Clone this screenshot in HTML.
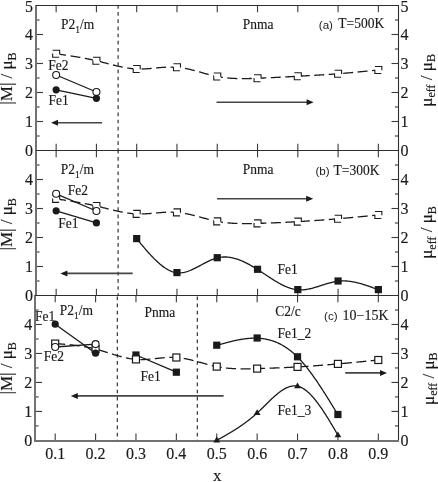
<!DOCTYPE html>
<html><head><meta charset="utf-8"><style>
html,body{margin:0;padding:0;background:#fff;}
body{width:438px;height:482px;overflow:hidden;font-family:"Liberation Serif",serif;}
svg{display:block;filter:blur(0.3px);}
text{stroke:#1a1a1a;stroke-width:0.15px;}
</style></head><body>
<svg width="438" height="482" viewBox="0 0 438 482">
<rect width="438" height="482" fill="#fff"/>
<line x1="56.14" y1="5.5" x2="56.14" y2="12.3" stroke="#3a3a3a" stroke-width="1.1" />
<line x1="56.14" y1="150.5" x2="56.14" y2="143.7" stroke="#3a3a3a" stroke-width="1.1" />
<line x1="96.42" y1="5.5" x2="96.42" y2="12.3" stroke="#3a3a3a" stroke-width="1.1" />
<line x1="96.42" y1="150.5" x2="96.42" y2="143.7" stroke="#3a3a3a" stroke-width="1.1" />
<line x1="136.69" y1="5.5" x2="136.69" y2="12.3" stroke="#3a3a3a" stroke-width="1.1" />
<line x1="136.69" y1="150.5" x2="136.69" y2="143.7" stroke="#3a3a3a" stroke-width="1.1" />
<line x1="176.97" y1="5.5" x2="176.97" y2="12.3" stroke="#3a3a3a" stroke-width="1.1" />
<line x1="176.97" y1="150.5" x2="176.97" y2="143.7" stroke="#3a3a3a" stroke-width="1.1" />
<line x1="217.25" y1="5.5" x2="217.25" y2="12.3" stroke="#3a3a3a" stroke-width="1.1" />
<line x1="217.25" y1="150.5" x2="217.25" y2="143.7" stroke="#3a3a3a" stroke-width="1.1" />
<line x1="257.53" y1="5.5" x2="257.53" y2="12.3" stroke="#3a3a3a" stroke-width="1.1" />
<line x1="257.53" y1="150.5" x2="257.53" y2="143.7" stroke="#3a3a3a" stroke-width="1.1" />
<line x1="297.81" y1="5.5" x2="297.81" y2="12.3" stroke="#3a3a3a" stroke-width="1.1" />
<line x1="297.81" y1="150.5" x2="297.81" y2="143.7" stroke="#3a3a3a" stroke-width="1.1" />
<line x1="338.08" y1="5.5" x2="338.08" y2="12.3" stroke="#3a3a3a" stroke-width="1.1" />
<line x1="338.08" y1="150.5" x2="338.08" y2="143.7" stroke="#3a3a3a" stroke-width="1.1" />
<line x1="378.36" y1="5.5" x2="378.36" y2="12.3" stroke="#3a3a3a" stroke-width="1.1" />
<line x1="378.36" y1="150.5" x2="378.36" y2="143.7" stroke="#3a3a3a" stroke-width="1.1" />
<line x1="36" y1="136" x2="39.6" y2="136" stroke="#3a3a3a" stroke-width="1.1" />
<line x1="398.5" y1="136" x2="394.9" y2="136" stroke="#3a3a3a" stroke-width="1.1" />
<line x1="36" y1="121.5" x2="43" y2="121.5" stroke="#3a3a3a" stroke-width="1.1" />
<line x1="398.5" y1="121.5" x2="391.5" y2="121.5" stroke="#3a3a3a" stroke-width="1.1" />
<line x1="36" y1="107" x2="39.6" y2="107" stroke="#3a3a3a" stroke-width="1.1" />
<line x1="398.5" y1="107" x2="394.9" y2="107" stroke="#3a3a3a" stroke-width="1.1" />
<line x1="36" y1="92.5" x2="43" y2="92.5" stroke="#3a3a3a" stroke-width="1.1" />
<line x1="398.5" y1="92.5" x2="391.5" y2="92.5" stroke="#3a3a3a" stroke-width="1.1" />
<line x1="36" y1="78" x2="39.6" y2="78" stroke="#3a3a3a" stroke-width="1.1" />
<line x1="398.5" y1="78" x2="394.9" y2="78" stroke="#3a3a3a" stroke-width="1.1" />
<line x1="36" y1="63.5" x2="43" y2="63.5" stroke="#3a3a3a" stroke-width="1.1" />
<line x1="398.5" y1="63.5" x2="391.5" y2="63.5" stroke="#3a3a3a" stroke-width="1.1" />
<line x1="36" y1="49" x2="39.6" y2="49" stroke="#3a3a3a" stroke-width="1.1" />
<line x1="398.5" y1="49" x2="394.9" y2="49" stroke="#3a3a3a" stroke-width="1.1" />
<line x1="36" y1="34.5" x2="43" y2="34.5" stroke="#3a3a3a" stroke-width="1.1" />
<line x1="398.5" y1="34.5" x2="391.5" y2="34.5" stroke="#3a3a3a" stroke-width="1.1" />
<line x1="36" y1="20" x2="39.6" y2="20" stroke="#3a3a3a" stroke-width="1.1" />
<line x1="398.5" y1="20" x2="394.9" y2="20" stroke="#3a3a3a" stroke-width="1.1" />
<rect x="35" y="5" width="2" height="146" fill="#727272"/>
<line x1="398.5" y1="5" x2="398.5" y2="151" stroke="#2e2e2e" stroke-width="1.1" />
<line x1="36" y1="5.5" x2="398.5" y2="5.5" stroke="#2e2e2e" stroke-width="1.1" />
<line x1="56.14" y1="150.5" x2="56.14" y2="157.3" stroke="#3a3a3a" stroke-width="1.1" />
<line x1="56.14" y1="295.5" x2="56.14" y2="288.7" stroke="#3a3a3a" stroke-width="1.1" />
<line x1="96.42" y1="150.5" x2="96.42" y2="157.3" stroke="#3a3a3a" stroke-width="1.1" />
<line x1="96.42" y1="295.5" x2="96.42" y2="288.7" stroke="#3a3a3a" stroke-width="1.1" />
<line x1="136.69" y1="150.5" x2="136.69" y2="157.3" stroke="#3a3a3a" stroke-width="1.1" />
<line x1="136.69" y1="295.5" x2="136.69" y2="288.7" stroke="#3a3a3a" stroke-width="1.1" />
<line x1="176.97" y1="150.5" x2="176.97" y2="157.3" stroke="#3a3a3a" stroke-width="1.1" />
<line x1="176.97" y1="295.5" x2="176.97" y2="288.7" stroke="#3a3a3a" stroke-width="1.1" />
<line x1="217.25" y1="150.5" x2="217.25" y2="157.3" stroke="#3a3a3a" stroke-width="1.1" />
<line x1="217.25" y1="295.5" x2="217.25" y2="288.7" stroke="#3a3a3a" stroke-width="1.1" />
<line x1="257.53" y1="150.5" x2="257.53" y2="157.3" stroke="#3a3a3a" stroke-width="1.1" />
<line x1="257.53" y1="295.5" x2="257.53" y2="288.7" stroke="#3a3a3a" stroke-width="1.1" />
<line x1="297.81" y1="150.5" x2="297.81" y2="157.3" stroke="#3a3a3a" stroke-width="1.1" />
<line x1="297.81" y1="295.5" x2="297.81" y2="288.7" stroke="#3a3a3a" stroke-width="1.1" />
<line x1="338.08" y1="150.5" x2="338.08" y2="157.3" stroke="#3a3a3a" stroke-width="1.1" />
<line x1="338.08" y1="295.5" x2="338.08" y2="288.7" stroke="#3a3a3a" stroke-width="1.1" />
<line x1="378.36" y1="150.5" x2="378.36" y2="157.3" stroke="#3a3a3a" stroke-width="1.1" />
<line x1="378.36" y1="295.5" x2="378.36" y2="288.7" stroke="#3a3a3a" stroke-width="1.1" />
<line x1="36" y1="281" x2="39.6" y2="281" stroke="#3a3a3a" stroke-width="1.1" />
<line x1="398.5" y1="281" x2="394.9" y2="281" stroke="#3a3a3a" stroke-width="1.1" />
<line x1="36" y1="266.5" x2="43" y2="266.5" stroke="#3a3a3a" stroke-width="1.1" />
<line x1="398.5" y1="266.5" x2="391.5" y2="266.5" stroke="#3a3a3a" stroke-width="1.1" />
<line x1="36" y1="252" x2="39.6" y2="252" stroke="#3a3a3a" stroke-width="1.1" />
<line x1="398.5" y1="252" x2="394.9" y2="252" stroke="#3a3a3a" stroke-width="1.1" />
<line x1="36" y1="237.5" x2="43" y2="237.5" stroke="#3a3a3a" stroke-width="1.1" />
<line x1="398.5" y1="237.5" x2="391.5" y2="237.5" stroke="#3a3a3a" stroke-width="1.1" />
<line x1="36" y1="223" x2="39.6" y2="223" stroke="#3a3a3a" stroke-width="1.1" />
<line x1="398.5" y1="223" x2="394.9" y2="223" stroke="#3a3a3a" stroke-width="1.1" />
<line x1="36" y1="208.5" x2="43" y2="208.5" stroke="#3a3a3a" stroke-width="1.1" />
<line x1="398.5" y1="208.5" x2="391.5" y2="208.5" stroke="#3a3a3a" stroke-width="1.1" />
<line x1="36" y1="194" x2="39.6" y2="194" stroke="#3a3a3a" stroke-width="1.1" />
<line x1="398.5" y1="194" x2="394.9" y2="194" stroke="#3a3a3a" stroke-width="1.1" />
<line x1="36" y1="179.5" x2="43" y2="179.5" stroke="#3a3a3a" stroke-width="1.1" />
<line x1="398.5" y1="179.5" x2="391.5" y2="179.5" stroke="#3a3a3a" stroke-width="1.1" />
<line x1="36" y1="165" x2="39.6" y2="165" stroke="#3a3a3a" stroke-width="1.1" />
<line x1="398.5" y1="165" x2="394.9" y2="165" stroke="#3a3a3a" stroke-width="1.1" />
<rect x="35" y="150" width="2" height="146" fill="#727272"/>
<line x1="398.5" y1="150" x2="398.5" y2="296" stroke="#2e2e2e" stroke-width="1.1" />
<line x1="36" y1="150.5" x2="398.5" y2="150.5" stroke="#2e2e2e" stroke-width="1.1" />
<line x1="55.19" y1="295.5" x2="55.19" y2="302.3" stroke="#3a3a3a" stroke-width="1.1" />
<line x1="55.19" y1="440.4" x2="55.19" y2="433.6" stroke="#3a3a3a" stroke-width="1.1" />
<line x1="95.58" y1="295.5" x2="95.58" y2="302.3" stroke="#3a3a3a" stroke-width="1.1" />
<line x1="95.58" y1="440.4" x2="95.58" y2="433.6" stroke="#3a3a3a" stroke-width="1.1" />
<line x1="135.97" y1="295.5" x2="135.97" y2="302.3" stroke="#3a3a3a" stroke-width="1.1" />
<line x1="135.97" y1="440.4" x2="135.97" y2="433.6" stroke="#3a3a3a" stroke-width="1.1" />
<line x1="176.36" y1="295.5" x2="176.36" y2="302.3" stroke="#3a3a3a" stroke-width="1.1" />
<line x1="176.36" y1="440.4" x2="176.36" y2="433.6" stroke="#3a3a3a" stroke-width="1.1" />
<line x1="216.75" y1="295.5" x2="216.75" y2="302.3" stroke="#3a3a3a" stroke-width="1.1" />
<line x1="216.75" y1="440.4" x2="216.75" y2="433.6" stroke="#3a3a3a" stroke-width="1.1" />
<line x1="257.14" y1="295.5" x2="257.14" y2="302.3" stroke="#3a3a3a" stroke-width="1.1" />
<line x1="257.14" y1="440.4" x2="257.14" y2="433.6" stroke="#3a3a3a" stroke-width="1.1" />
<line x1="297.53" y1="295.5" x2="297.53" y2="302.3" stroke="#3a3a3a" stroke-width="1.1" />
<line x1="297.53" y1="440.4" x2="297.53" y2="433.6" stroke="#3a3a3a" stroke-width="1.1" />
<line x1="337.92" y1="295.5" x2="337.92" y2="302.3" stroke="#3a3a3a" stroke-width="1.1" />
<line x1="337.92" y1="440.4" x2="337.92" y2="433.6" stroke="#3a3a3a" stroke-width="1.1" />
<line x1="378.31" y1="295.5" x2="378.31" y2="302.3" stroke="#3a3a3a" stroke-width="1.1" />
<line x1="378.31" y1="440.4" x2="378.31" y2="433.6" stroke="#3a3a3a" stroke-width="1.1" />
<line x1="35" y1="425.91" x2="38.6" y2="425.91" stroke="#3a3a3a" stroke-width="1.1" />
<line x1="398.5" y1="425.91" x2="394.9" y2="425.91" stroke="#3a3a3a" stroke-width="1.1" />
<line x1="35" y1="411.42" x2="42" y2="411.42" stroke="#3a3a3a" stroke-width="1.1" />
<line x1="398.5" y1="411.42" x2="391.5" y2="411.42" stroke="#3a3a3a" stroke-width="1.1" />
<line x1="35" y1="396.93" x2="38.6" y2="396.93" stroke="#3a3a3a" stroke-width="1.1" />
<line x1="398.5" y1="396.93" x2="394.9" y2="396.93" stroke="#3a3a3a" stroke-width="1.1" />
<line x1="35" y1="382.44" x2="42" y2="382.44" stroke="#3a3a3a" stroke-width="1.1" />
<line x1="398.5" y1="382.44" x2="391.5" y2="382.44" stroke="#3a3a3a" stroke-width="1.1" />
<line x1="35" y1="367.95" x2="38.6" y2="367.95" stroke="#3a3a3a" stroke-width="1.1" />
<line x1="398.5" y1="367.95" x2="394.9" y2="367.95" stroke="#3a3a3a" stroke-width="1.1" />
<line x1="35" y1="353.46" x2="42" y2="353.46" stroke="#3a3a3a" stroke-width="1.1" />
<line x1="398.5" y1="353.46" x2="391.5" y2="353.46" stroke="#3a3a3a" stroke-width="1.1" />
<line x1="35" y1="338.97" x2="38.6" y2="338.97" stroke="#3a3a3a" stroke-width="1.1" />
<line x1="398.5" y1="338.97" x2="394.9" y2="338.97" stroke="#3a3a3a" stroke-width="1.1" />
<line x1="35" y1="324.48" x2="42" y2="324.48" stroke="#3a3a3a" stroke-width="1.1" />
<line x1="398.5" y1="324.48" x2="391.5" y2="324.48" stroke="#3a3a3a" stroke-width="1.1" />
<line x1="35" y1="309.99" x2="38.6" y2="309.99" stroke="#3a3a3a" stroke-width="1.1" />
<line x1="398.5" y1="309.99" x2="394.9" y2="309.99" stroke="#3a3a3a" stroke-width="1.1" />
<rect x="34" y="295" width="2" height="145.9" fill="#727272"/>
<line x1="398.5" y1="295" x2="398.5" y2="440.9" stroke="#2e2e2e" stroke-width="1.1" />
<line x1="35" y1="295.5" x2="398.5" y2="295.5" stroke="#2e2e2e" stroke-width="1.1" />
<rect x="34" y="440" width="365" height="2" fill="#727272"/>
<text x="32.9" y="156.3" font-family="Liberation Serif" font-size="16" text-anchor="end" fill="#1a1a1a" >0</text>
<text x="400.6" y="156.3" font-family="Liberation Serif" font-size="16" text-anchor="start" fill="#1a1a1a" >0</text>
<text x="32.9" y="127.3" font-family="Liberation Serif" font-size="16" text-anchor="end" fill="#1a1a1a" >1</text>
<text x="400.6" y="127.3" font-family="Liberation Serif" font-size="16" text-anchor="start" fill="#1a1a1a" >1</text>
<text x="32.9" y="98.3" font-family="Liberation Serif" font-size="16" text-anchor="end" fill="#1a1a1a" >2</text>
<text x="400.6" y="98.3" font-family="Liberation Serif" font-size="16" text-anchor="start" fill="#1a1a1a" >2</text>
<text x="32.9" y="69.3" font-family="Liberation Serif" font-size="16" text-anchor="end" fill="#1a1a1a" >3</text>
<text x="400.6" y="69.3" font-family="Liberation Serif" font-size="16" text-anchor="start" fill="#1a1a1a" >3</text>
<text x="32.9" y="40.3" font-family="Liberation Serif" font-size="16" text-anchor="end" fill="#1a1a1a" >4</text>
<text x="400.6" y="40.3" font-family="Liberation Serif" font-size="16" text-anchor="start" fill="#1a1a1a" >4</text>
<text x="32.9" y="12.2" font-family="Liberation Serif" font-size="16" text-anchor="end" fill="#1a1a1a" >5</text>
<text x="400.6" y="12.2" font-family="Liberation Serif" font-size="16" text-anchor="start" fill="#1a1a1a" >5</text>
<text x="32.9" y="301.3" font-family="Liberation Serif" font-size="16" text-anchor="end" fill="#1a1a1a" >0</text>
<text x="400.6" y="301.3" font-family="Liberation Serif" font-size="16" text-anchor="start" fill="#1a1a1a" >0</text>
<text x="32.9" y="272.3" font-family="Liberation Serif" font-size="16" text-anchor="end" fill="#1a1a1a" >1</text>
<text x="400.6" y="272.3" font-family="Liberation Serif" font-size="16" text-anchor="start" fill="#1a1a1a" >1</text>
<text x="32.9" y="243.3" font-family="Liberation Serif" font-size="16" text-anchor="end" fill="#1a1a1a" >2</text>
<text x="400.6" y="243.3" font-family="Liberation Serif" font-size="16" text-anchor="start" fill="#1a1a1a" >2</text>
<text x="32.9" y="214.3" font-family="Liberation Serif" font-size="16" text-anchor="end" fill="#1a1a1a" >3</text>
<text x="400.6" y="214.3" font-family="Liberation Serif" font-size="16" text-anchor="start" fill="#1a1a1a" >3</text>
<text x="32.9" y="185.3" font-family="Liberation Serif" font-size="16" text-anchor="end" fill="#1a1a1a" >4</text>
<text x="400.6" y="185.3" font-family="Liberation Serif" font-size="16" text-anchor="start" fill="#1a1a1a" >4</text>
<text x="32.3" y="446.2" font-family="Liberation Serif" font-size="16" text-anchor="end" fill="#1a1a1a" >0</text>
<text x="400.6" y="446.2" font-family="Liberation Serif" font-size="16" text-anchor="start" fill="#1a1a1a" >0</text>
<text x="32.3" y="417.22" font-family="Liberation Serif" font-size="16" text-anchor="end" fill="#1a1a1a" >1</text>
<text x="400.6" y="417.22" font-family="Liberation Serif" font-size="16" text-anchor="start" fill="#1a1a1a" >1</text>
<text x="32.3" y="388.24" font-family="Liberation Serif" font-size="16" text-anchor="end" fill="#1a1a1a" >2</text>
<text x="400.6" y="388.24" font-family="Liberation Serif" font-size="16" text-anchor="start" fill="#1a1a1a" >2</text>
<text x="32.3" y="359.26" font-family="Liberation Serif" font-size="16" text-anchor="end" fill="#1a1a1a" >3</text>
<text x="400.6" y="359.26" font-family="Liberation Serif" font-size="16" text-anchor="start" fill="#1a1a1a" >3</text>
<text x="32.3" y="330.28" font-family="Liberation Serif" font-size="16" text-anchor="end" fill="#1a1a1a" >4</text>
<text x="400.6" y="330.28" font-family="Liberation Serif" font-size="16" text-anchor="start" fill="#1a1a1a" >4</text>
<text x="55.19" y="458.6" font-family="Liberation Serif" font-size="16" text-anchor="middle" fill="#1a1a1a" >0.1</text>
<text x="95.58" y="458.6" font-family="Liberation Serif" font-size="16" text-anchor="middle" fill="#1a1a1a" >0.2</text>
<text x="135.97" y="458.6" font-family="Liberation Serif" font-size="16" text-anchor="middle" fill="#1a1a1a" >0.3</text>
<text x="176.36" y="458.6" font-family="Liberation Serif" font-size="16" text-anchor="middle" fill="#1a1a1a" >0.4</text>
<text x="216.75" y="458.6" font-family="Liberation Serif" font-size="16" text-anchor="middle" fill="#1a1a1a" >0.5</text>
<text x="257.14" y="458.6" font-family="Liberation Serif" font-size="16" text-anchor="middle" fill="#1a1a1a" >0.6</text>
<text x="297.53" y="458.6" font-family="Liberation Serif" font-size="16" text-anchor="middle" fill="#1a1a1a" >0.7</text>
<text x="337.92" y="458.6" font-family="Liberation Serif" font-size="16" text-anchor="middle" fill="#1a1a1a" >0.8</text>
<text x="378.31" y="458.6" font-family="Liberation Serif" font-size="16" text-anchor="middle" fill="#1a1a1a" >0.9</text>
<text x="217.3" y="481.4" font-family="Liberation Serif" font-size="17" text-anchor="middle" fill="#1a1a1a" >x</text>
<text transform="translate(12.2,78.5) rotate(-90)" font-family="Liberation Serif" font-size="17" text-anchor="middle" fill="#1a1a1a">|M| / μ<tspan font-size="12" dy="3.8">B</tspan></text>
<text transform="translate(12.2,224.3) rotate(-90)" font-family="Liberation Serif" font-size="17" text-anchor="middle" fill="#1a1a1a">|M| / μ<tspan font-size="12" dy="3.8">B</tspan></text>
<text transform="translate(12.2,368.3) rotate(-90)" font-family="Liberation Serif" font-size="17" text-anchor="middle" fill="#1a1a1a">|M| / μ<tspan font-size="12" dy="3.8">B</tspan></text>
<text transform="translate(431.5,80.4) rotate(-90)" font-family="Liberation Serif" font-size="17" text-anchor="middle" fill="#1a1a1a">μ<tspan font-size="12" dy="3.8">eff</tspan><tspan dy="-3.8"> / μ</tspan><tspan font-size="12" dy="3.8">B</tspan></text>
<text transform="translate(431.8,232.5) rotate(-90)" font-family="Liberation Serif" font-size="17" text-anchor="middle" fill="#1a1a1a">μ<tspan font-size="12" dy="3.8">eff</tspan><tspan dy="-3.8"> / μ</tspan><tspan font-size="12" dy="3.8">B</tspan></text>
<text transform="translate(433.5,378.7) rotate(-90)" font-family="Liberation Serif" font-size="17" text-anchor="middle" fill="#1a1a1a">μ<tspan font-size="12" dy="3.8">eff</tspan><tspan dy="-3.8"> / μ</tspan><tspan font-size="12" dy="3.8">B</tspan></text>
<line x1="118.1" y1="4.95" x2="118.1" y2="150.4" stroke="#222" stroke-width="1.1" stroke-dasharray="3.7 3.47"/>
<line x1="118.1" y1="149.9" x2="118.1" y2="295.3" stroke="#222" stroke-width="1.1" stroke-dasharray="3.7 3.47"/>
<line x1="117.3" y1="296.45" x2="117.3" y2="440.2" stroke="#222" stroke-width="1.1" stroke-dasharray="3.7 3.47"/>
<line x1="197.3" y1="296.45" x2="197.3" y2="440.2" stroke="#222" stroke-width="1.1" stroke-dasharray="3.7 3.47"/>
<path d="M56.14,53.8 L56.94,53.91 L57.75,54.03 L58.56,54.14 L59.36,54.25 L60.17,54.37 L60.97,54.48 L61.78,54.6 L62.58,54.71 L63.39,54.83 L64.19,54.94 L65,55.06 L65.81,55.18 L66.61,55.29 L67.42,55.41 L68.22,55.53 L69.03,55.65 L69.83,55.78 L70.64,55.9 L71.44,56.02 L72.25,56.15 L73.06,56.27 L73.86,56.4 L74.67,56.53 L75.47,56.66 L76.28,56.79 L77.08,56.92 L77.89,57.06 L78.69,57.2 L79.5,57.33 L80.31,57.47 L81.11,57.62 L81.92,57.76 L82.72,57.91 L83.53,58.05 L84.33,58.2 L85.14,58.36 L85.94,58.51 L86.75,58.67 L87.56,58.83 L88.36,58.99 L89.17,59.15 L89.97,59.32 L90.78,59.49 L91.58,59.66 L92.39,59.83 L93.19,60.01 L94,60.19 L94.81,60.37 L95.61,60.56 L96.42,60.75 L97.22,60.94 L98.03,61.14 L98.83,61.33 L99.64,61.53 L100.44,61.74 L101.25,61.94 L102.06,62.15 L102.86,62.35 L103.67,62.56 L104.47,62.77 L105.28,62.98 L106.08,63.19 L106.89,63.4 L107.69,63.61 L108.5,63.82 L109.31,64.03 L110.11,64.23 L110.92,64.44 L111.72,64.64 L112.53,64.85 L113.33,65.05 L114.14,65.25 L114.94,65.45 L115.75,65.64 L116.56,65.83 L117.36,66.02 L118.17,66.21 L118.97,66.39 L119.78,66.56 L120.58,66.74 L121.39,66.91 L122.19,67.07 L123,67.23 L123.81,67.38 L124.61,67.53 L125.42,67.68 L126.22,67.81 L127.03,67.95 L127.83,68.07 L128.64,68.19 L129.44,68.3 L130.25,68.4 L131.06,68.5 L131.86,68.59 L132.67,68.67 L133.47,68.74 L134.28,68.81 L135.08,68.86 L135.89,68.91 L136.69,68.95 L137.5,68.98 L138.31,69 L139.11,69.01 L139.92,69.01 L140.72,69.01 L141.53,69 L142.33,68.98 L143.14,68.95 L143.94,68.92 L144.75,68.88 L145.56,68.84 L146.36,68.79 L147.17,68.74 L147.97,68.68 L148.78,68.62 L149.58,68.56 L150.39,68.49 L151.19,68.42 L152,68.35 L152.81,68.28 L153.61,68.2 L154.42,68.13 L155.22,68.05 L156.03,67.97 L156.83,67.9 L157.64,67.82 L158.44,67.75 L159.25,67.68 L160.06,67.6 L160.86,67.54 L161.67,67.47 L162.47,67.41 L163.28,67.35 L164.08,67.29 L164.89,67.24 L165.69,67.19 L166.5,67.15 L167.31,67.11 L168.11,67.08 L168.92,67.06 L169.72,67.04 L170.53,67.03 L171.33,67.03 L172.14,67.03 L172.94,67.05 L173.75,67.07 L174.56,67.1 L175.36,67.14 L176.17,67.19 L176.97,67.25 L177.78,67.32 L178.58,67.4 L179.39,67.49 L180.19,67.59 L181,67.7 L181.81,67.82 L182.61,67.95 L183.42,68.09 L184.22,68.23 L185.03,68.38 L185.83,68.54 L186.64,68.71 L187.44,68.88 L188.25,69.05 L189.06,69.24 L189.86,69.43 L190.67,69.62 L191.47,69.82 L192.28,70.02 L193.08,70.23 L193.89,70.44 L194.69,70.65 L195.5,70.87 L196.31,71.09 L197.11,71.31 L197.92,71.53 L198.72,71.75 L199.53,71.98 L200.33,72.21 L201.14,72.43 L201.94,72.66 L202.75,72.89 L203.56,73.11 L204.36,73.34 L205.17,73.56 L205.97,73.78 L206.78,74 L207.58,74.22 L208.39,74.43 L209.19,74.64 L210,74.85 L210.81,75.05 L211.61,75.25 L212.42,75.45 L213.22,75.64 L214.03,75.82 L214.83,76 L215.64,76.17 L216.44,76.34 L217.25,76.5 L218.06,76.65 L218.86,76.8 L219.67,76.94 L220.47,77.07 L221.28,77.2 L222.08,77.32 L222.89,77.43 L223.69,77.54 L224.5,77.64 L225.31,77.73 L226.11,77.82 L226.92,77.91 L227.72,77.99 L228.53,78.06 L229.33,78.13 L230.14,78.19 L230.94,78.25 L231.75,78.3 L232.56,78.35 L233.36,78.4 L234.17,78.44 L234.97,78.47 L235.78,78.5 L236.58,78.53 L237.39,78.55 L238.19,78.57 L239,78.59 L239.81,78.6 L240.61,78.61 L241.42,78.62 L242.22,78.62 L243.03,78.62 L243.83,78.61 L244.64,78.61 L245.44,78.6 L246.25,78.59 L247.06,78.58 L247.86,78.56 L248.67,78.54 L249.47,78.52 L250.28,78.5 L251.08,78.48 L251.89,78.45 L252.69,78.43 L253.5,78.4 L254.31,78.37 L255.11,78.34 L255.92,78.31 L256.72,78.28 L257.53,78.25 L258.33,78.22 L259.14,78.19 L259.94,78.15 L260.75,78.12 L261.56,78.08 L262.36,78.05 L263.17,78.01 L263.97,77.98 L264.78,77.94 L265.58,77.91 L266.39,77.87 L267.19,77.83 L268,77.8 L268.81,77.76 L269.61,77.72 L270.42,77.68 L271.22,77.64 L272.03,77.61 L272.83,77.57 L273.64,77.53 L274.44,77.49 L275.25,77.45 L276.06,77.41 L276.86,77.36 L277.67,77.32 L278.47,77.28 L279.28,77.24 L280.08,77.2 L280.89,77.16 L281.69,77.12 L282.5,77.07 L283.31,77.03 L284.11,76.99 L284.92,76.95 L285.72,76.9 L286.53,76.86 L287.33,76.82 L288.14,76.77 L288.94,76.73 L289.75,76.69 L290.56,76.64 L291.36,76.6 L292.17,76.56 L292.97,76.51 L293.78,76.47 L294.58,76.43 L295.39,76.38 L296.19,76.34 L297,76.29 L297.81,76.25 L298.61,76.21 L299.42,76.16 L300.22,76.12 L301.03,76.07 L301.83,76.03 L302.64,75.99 L303.44,75.94 L304.25,75.9 L305.06,75.85 L305.86,75.81 L306.67,75.77 L307.47,75.72 L308.28,75.68 L309.08,75.63 L309.89,75.59 L310.69,75.54 L311.5,75.5 L312.31,75.45 L313.11,75.4 L313.92,75.36 L314.72,75.31 L315.53,75.26 L316.33,75.22 L317.14,75.17 L317.94,75.12 L318.75,75.07 L319.56,75.02 L320.36,74.97 L321.17,74.92 L321.97,74.87 L322.78,74.82 L323.58,74.77 L324.39,74.72 L325.19,74.67 L326,74.61 L326.81,74.56 L327.61,74.51 L328.42,74.45 L329.22,74.4 L330.03,74.34 L330.83,74.29 L331.64,74.23 L332.44,74.17 L333.25,74.11 L334.06,74.06 L334.86,74 L335.67,73.94 L336.47,73.87 L337.28,73.81 L338.08,73.75 L338.91,73.69 L339.73,73.62 L340.55,73.55 L341.37,73.49 L342.19,73.42 L343.02,73.35 L343.84,73.28 L344.66,73.21 L345.48,73.14 L346.3,73.07 L347.13,73 L347.95,72.93 L348.77,72.85 L349.59,72.78 L350.41,72.7 L351.24,72.63 L352.06,72.55 L352.88,72.48 L353.7,72.4 L354.52,72.32 L355.35,72.25 L356.17,72.17 L356.99,72.09 L357.81,72.01 L358.63,71.93 L359.46,71.85 L360.28,71.77 L361.1,71.69 L361.92,71.61 L362.74,71.53 L363.57,71.45 L364.39,71.37 L365.21,71.29 L366.03,71.2 L366.85,71.12 L367.68,71.04 L368.5,70.96 L369.32,70.87 L370.14,70.79 L370.96,70.71 L371.79,70.62 L372.61,70.54 L373.43,70.45 L374.25,70.37 L375.07,70.29 L375.9,70.2 L376.72,70.12 L377.54,70.03 L378.36,69.95" fill="none" stroke="#1a1a1a" stroke-width="1.3" stroke-dasharray="10 4.5"/>
<rect x="52.64" y="50.3" width="7" height="7" fill="#fff" stroke="none"/>
<path d="M52.64,50.3 H59.64 V54.1 M52.64,53.5 V57.3 H59.14" fill="none" stroke="#1a1a1a" stroke-width="1.1"/>
<rect x="92.92" y="57.25" width="7" height="7" fill="#fff" stroke="none"/>
<path d="M92.92,57.25 H99.92 V61.05 M92.92,60.45 V64.25 H99.42" fill="none" stroke="#1a1a1a" stroke-width="1.1"/>
<rect x="133.19" y="65.45" width="7" height="7" fill="#fff" stroke="none"/>
<path d="M133.19,65.45 H140.19 V69.25 M133.19,68.65 V72.45 H139.69" fill="none" stroke="#1a1a1a" stroke-width="1.1"/>
<rect x="173.47" y="63.75" width="7" height="7" fill="#fff" stroke="none"/>
<path d="M173.47,63.75 H180.47 V67.55 M173.47,66.95 V70.75 H179.97" fill="none" stroke="#1a1a1a" stroke-width="1.1"/>
<rect x="213.75" y="73" width="7" height="7" fill="#fff" stroke="none"/>
<path d="M213.75,73 H220.75 V76.8 M213.75,76.2 V80 H220.25" fill="none" stroke="#1a1a1a" stroke-width="1.1"/>
<rect x="254.03" y="74.75" width="7" height="7" fill="#fff" stroke="none"/>
<path d="M254.03,74.75 H261.03 V78.55 M254.03,77.95 V81.75 H260.53" fill="none" stroke="#1a1a1a" stroke-width="1.1"/>
<rect x="294.31" y="72.75" width="7" height="7" fill="#fff" stroke="none"/>
<path d="M294.31,72.75 H301.31 V76.55 M294.31,75.95 V79.75 H300.81" fill="none" stroke="#1a1a1a" stroke-width="1.1"/>
<rect x="334.58" y="70.25" width="7" height="7" fill="#fff" stroke="none"/>
<path d="M334.58,70.25 H341.58 V74.05 M334.58,73.45 V77.25 H341.08" fill="none" stroke="#1a1a1a" stroke-width="1.1"/>
<rect x="374.86" y="66.45" width="7" height="7" fill="#fff" stroke="none"/>
<path d="M374.86,66.45 H381.86 V70.25 M374.86,69.65 V73.45 H381.36" fill="none" stroke="#1a1a1a" stroke-width="1.1"/>
<line x1="56.14" y1="75" x2="96.42" y2="92" stroke="#1a1a1a" stroke-width="1.3" />
<line x1="56.14" y1="89.8" x2="96.42" y2="98.3" stroke="#1a1a1a" stroke-width="1.3" />
<circle cx="56.14" cy="75" r="3.5" fill="#fff" stroke="#1a1a1a" stroke-width="1.1"/>
<circle cx="96.42" cy="92" r="3.5" fill="#fff" stroke="#1a1a1a" stroke-width="1.1"/>
<circle cx="56.14" cy="89.8" r="3.6" fill="#1a1a1a"/>
<circle cx="96.42" cy="98.3" r="3.6" fill="#1a1a1a"/>
<text x="48.3" y="69.5" font-family="Liberation Serif" font-size="13.972499999999998" text-anchor="start" fill="#1a1a1a" textLength="20.25" lengthAdjust="spacingAndGlyphs" >Fe2</text>
<text x="48.5" y="105" font-family="Liberation Serif" font-size="13.972499999999998" text-anchor="start" fill="#1a1a1a" textLength="20.25" lengthAdjust="spacingAndGlyphs" >Fe1</text>
<text x="61.1" y="28.5" font-family="Liberation Serif" font-size="13.97" fill="#1a1a1a" textLength="33.26" lengthAdjust="spacingAndGlyphs">P2<tspan font-size="9.83" dy="4">1</tspan><tspan dy="-4">/m</tspan></text>
<text x="242.8" y="28.6" font-family="Liberation Serif" font-size="13.972499999999998" text-anchor="start" fill="#1a1a1a" textLength="30.75" lengthAdjust="spacingAndGlyphs" >Pnma</text>
<text x="318.8" y="28.5" font-family="Liberation Sans" font-size="11.6" text-anchor="start" fill="#1a1a1a" style="stroke:none">(a)</text>
<text x="338.3" y="27.5" font-family="Liberation Serif" font-size="13.972499999999998" text-anchor="start" fill="#1a1a1a" textLength="45.86" lengthAdjust="spacingAndGlyphs" >T=500K</text>
<line x1="102.1" y1="122.7" x2="55.9" y2="122.7" stroke="#454545" stroke-width="1.6" />
<path d="M51,122.7 L58,119.7 L58,125.7 Z" fill="#1a1a1a"/>
<line x1="216.5" y1="102.2" x2="308.7" y2="102.2" stroke="#454545" stroke-width="1.6" />
<path d="M313.6,102.2 L306.6,99.2 L306.6,105.2 Z" fill="#1a1a1a"/>
<path d="M56.14,198.9 L56.94,199.02 L57.75,199.14 L58.56,199.26 L59.36,199.38 L60.17,199.5 L60.97,199.62 L61.78,199.74 L62.58,199.86 L63.39,199.98 L64.19,200.1 L65,200.23 L65.81,200.35 L66.61,200.47 L67.42,200.6 L68.22,200.72 L69.03,200.85 L69.83,200.98 L70.64,201.1 L71.44,201.23 L72.25,201.36 L73.06,201.49 L73.86,201.62 L74.67,201.76 L75.47,201.89 L76.28,202.03 L77.08,202.16 L77.89,202.3 L78.69,202.44 L79.5,202.58 L80.31,202.73 L81.11,202.87 L81.92,203.02 L82.72,203.17 L83.53,203.32 L84.33,203.47 L85.14,203.62 L85.94,203.78 L86.75,203.93 L87.56,204.09 L88.36,204.26 L89.17,204.42 L89.97,204.59 L90.78,204.75 L91.58,204.92 L92.39,205.1 L93.19,205.27 L94,205.45 L94.81,205.63 L95.61,205.81 L96.42,206 L97.22,206.19 L98.03,206.38 L98.83,206.57 L99.64,206.77 L100.44,206.96 L101.25,207.16 L102.06,207.36 L102.86,207.56 L103.67,207.76 L104.47,207.97 L105.28,208.17 L106.08,208.37 L106.89,208.58 L107.69,208.78 L108.5,208.98 L109.31,209.18 L110.11,209.38 L110.92,209.58 L111.72,209.78 L112.53,209.97 L113.33,210.17 L114.14,210.36 L114.94,210.55 L115.75,210.73 L116.56,210.92 L117.36,211.1 L118.17,211.28 L118.97,211.45 L119.78,211.62 L120.58,211.78 L121.39,211.95 L122.19,212.1 L123,212.26 L123.81,212.4 L124.61,212.55 L125.42,212.68 L126.22,212.81 L127.03,212.94 L127.83,213.06 L128.64,213.17 L129.44,213.28 L130.25,213.38 L131.06,213.47 L131.86,213.55 L132.67,213.63 L133.47,213.7 L134.28,213.76 L135.08,213.82 L135.89,213.86 L136.69,213.9 L137.5,213.93 L138.31,213.95 L139.11,213.96 L139.92,213.96 L140.72,213.96 L141.53,213.95 L142.33,213.93 L143.14,213.91 L143.94,213.88 L144.75,213.84 L145.56,213.8 L146.36,213.76 L147.17,213.71 L147.97,213.65 L148.78,213.6 L149.58,213.54 L150.39,213.48 L151.19,213.41 L152,213.34 L152.81,213.28 L153.61,213.21 L154.42,213.13 L155.22,213.06 L156.03,212.99 L156.83,212.92 L157.64,212.85 L158.44,212.78 L159.25,212.71 L160.06,212.65 L160.86,212.58 L161.67,212.52 L162.47,212.46 L163.28,212.41 L164.08,212.36 L164.89,212.31 L165.69,212.27 L166.5,212.23 L167.31,212.2 L168.11,212.17 L168.92,212.15 L169.72,212.13 L170.53,212.12 L171.33,212.12 L172.14,212.13 L172.94,212.15 L173.75,212.17 L174.56,212.2 L175.36,212.24 L176.17,212.29 L176.97,212.35 L177.78,212.42 L178.58,212.5 L179.39,212.59 L180.19,212.69 L181,212.79 L181.81,212.91 L182.61,213.03 L183.42,213.17 L184.22,213.31 L185.03,213.45 L185.83,213.61 L186.64,213.77 L187.44,213.93 L188.25,214.1 L189.06,214.28 L189.86,214.46 L190.67,214.65 L191.47,214.84 L192.28,215.04 L193.08,215.24 L193.89,215.44 L194.69,215.65 L195.5,215.86 L196.31,216.07 L197.11,216.29 L197.92,216.5 L198.72,216.72 L199.53,216.94 L200.33,217.16 L201.14,217.38 L201.94,217.6 L202.75,217.82 L203.56,218.03 L204.36,218.25 L205.17,218.47 L205.97,218.69 L206.78,218.9 L207.58,219.11 L208.39,219.32 L209.19,219.52 L210,219.73 L210.81,219.93 L211.61,220.12 L212.42,220.31 L213.22,220.5 L214.03,220.68 L214.83,220.86 L215.64,221.03 L216.44,221.19 L217.25,221.35 L218.06,221.5 L218.86,221.65 L219.67,221.79 L220.47,221.92 L221.28,222.05 L222.08,222.17 L222.89,222.28 L223.69,222.39 L224.5,222.49 L225.31,222.59 L226.11,222.69 L226.92,222.77 L227.72,222.85 L228.53,222.93 L229.33,223 L230.14,223.07 L230.94,223.13 L231.75,223.19 L232.56,223.25 L233.36,223.3 L234.17,223.34 L234.97,223.38 L235.78,223.42 L236.58,223.46 L237.39,223.49 L238.19,223.51 L239,223.54 L239.81,223.56 L240.61,223.57 L241.42,223.59 L242.22,223.6 L243.03,223.6 L243.83,223.61 L244.64,223.61 L245.44,223.61 L246.25,223.61 L247.06,223.61 L247.86,223.6 L248.67,223.59 L249.47,223.58 L250.28,223.57 L251.08,223.55 L251.89,223.54 L252.69,223.52 L253.5,223.5 L254.31,223.48 L255.11,223.46 L255.92,223.44 L256.72,223.42 L257.53,223.4 L258.33,223.38 L259.14,223.35 L259.94,223.33 L260.75,223.31 L261.56,223.28 L262.36,223.26 L263.17,223.23 L263.97,223.2 L264.78,223.18 L265.58,223.15 L266.39,223.12 L267.19,223.09 L268,223.06 L268.81,223.03 L269.61,223 L270.42,222.97 L271.22,222.94 L272.03,222.91 L272.83,222.88 L273.64,222.85 L274.44,222.81 L275.25,222.78 L276.06,222.75 L276.86,222.71 L277.67,222.68 L278.47,222.64 L279.28,222.61 L280.08,222.57 L280.89,222.53 L281.69,222.5 L282.5,222.46 L283.31,222.42 L284.11,222.38 L284.92,222.34 L285.72,222.3 L286.53,222.26 L287.33,222.22 L288.14,222.18 L288.94,222.14 L289.75,222.1 L290.56,222.05 L291.36,222.01 L292.17,221.97 L292.97,221.92 L293.78,221.88 L294.58,221.83 L295.39,221.79 L296.19,221.74 L297,221.7 L297.81,221.65 L298.61,221.6 L299.42,221.56 L300.22,221.51 L301.03,221.46 L301.83,221.41 L302.64,221.36 L303.44,221.31 L304.25,221.26 L305.06,221.21 L305.86,221.16 L306.67,221.11 L307.47,221.05 L308.28,221 L309.08,220.95 L309.89,220.9 L310.69,220.84 L311.5,220.79 L312.31,220.73 L313.11,220.68 L313.92,220.62 L314.72,220.57 L315.53,220.51 L316.33,220.45 L317.14,220.4 L317.94,220.34 L318.75,220.28 L319.56,220.22 L320.36,220.16 L321.17,220.1 L321.97,220.04 L322.78,219.98 L323.58,219.92 L324.39,219.86 L325.19,219.8 L326,219.74 L326.81,219.67 L327.61,219.61 L328.42,219.55 L329.22,219.48 L330.03,219.42 L330.83,219.35 L331.64,219.29 L332.44,219.22 L333.25,219.16 L334.06,219.09 L334.86,219.02 L335.67,218.95 L336.47,218.89 L337.28,218.82 L338.08,218.75 L338.91,218.68 L339.73,218.61 L340.55,218.54 L341.37,218.47 L342.19,218.39 L343.02,218.32 L343.84,218.25 L344.66,218.17 L345.48,218.1 L346.3,218.03 L347.13,217.95 L347.95,217.88 L348.77,217.8 L349.59,217.73 L350.41,217.65 L351.24,217.57 L352.06,217.5 L352.88,217.42 L353.7,217.34 L354.52,217.27 L355.35,217.19 L356.17,217.11 L356.99,217.03 L357.81,216.96 L358.63,216.88 L359.46,216.8 L360.28,216.72 L361.1,216.64 L361.92,216.56 L362.74,216.48 L363.57,216.4 L364.39,216.32 L365.21,216.24 L366.03,216.16 L366.85,216.08 L367.68,216 L368.5,215.92 L369.32,215.84 L370.14,215.76 L370.96,215.68 L371.79,215.6 L372.61,215.52 L373.43,215.44 L374.25,215.36 L375.07,215.27 L375.9,215.19 L376.72,215.11 L377.54,215.03 L378.36,214.95" fill="none" stroke="#1a1a1a" stroke-width="1.3" stroke-dasharray="10 4.5"/>
<rect x="52.64" y="195.4" width="7" height="7" fill="#fff" stroke="none"/>
<path d="M52.64,195.4 H59.64 V199.2 M52.64,198.6 V202.4 H59.14" fill="none" stroke="#1a1a1a" stroke-width="1.1"/>
<rect x="92.92" y="202.5" width="7" height="7" fill="#fff" stroke="none"/>
<path d="M92.92,202.5 H99.92 V206.3 M92.92,205.7 V209.5 H99.42" fill="none" stroke="#1a1a1a" stroke-width="1.1"/>
<rect x="133.19" y="210.4" width="7" height="7" fill="#fff" stroke="none"/>
<path d="M133.19,210.4 H140.19 V214.2 M133.19,213.6 V217.4 H139.69" fill="none" stroke="#1a1a1a" stroke-width="1.1"/>
<rect x="173.47" y="208.85" width="7" height="7" fill="#fff" stroke="none"/>
<path d="M173.47,208.85 H180.47 V212.65 M173.47,212.05 V215.85 H179.97" fill="none" stroke="#1a1a1a" stroke-width="1.1"/>
<rect x="213.75" y="217.85" width="7" height="7" fill="#fff" stroke="none"/>
<path d="M213.75,217.85 H220.75 V221.65 M213.75,221.05 V224.85 H220.25" fill="none" stroke="#1a1a1a" stroke-width="1.1"/>
<rect x="254.03" y="219.9" width="7" height="7" fill="#fff" stroke="none"/>
<path d="M254.03,219.9 H261.03 V223.7 M254.03,223.1 V226.9 H260.53" fill="none" stroke="#1a1a1a" stroke-width="1.1"/>
<rect x="294.31" y="218.15" width="7" height="7" fill="#fff" stroke="none"/>
<path d="M294.31,218.15 H301.31 V221.95 M294.31,221.35 V225.15 H300.81" fill="none" stroke="#1a1a1a" stroke-width="1.1"/>
<rect x="334.58" y="215.25" width="7" height="7" fill="#fff" stroke="none"/>
<path d="M334.58,215.25 H341.58 V219.05 M334.58,218.45 V222.25 H341.08" fill="none" stroke="#1a1a1a" stroke-width="1.1"/>
<rect x="374.86" y="211.45" width="7" height="7" fill="#fff" stroke="none"/>
<path d="M374.86,211.45 H381.86 V215.25 M374.86,214.65 V218.45 H381.36" fill="none" stroke="#1a1a1a" stroke-width="1.1"/>
<line x1="56.14" y1="193.8" x2="96.42" y2="211" stroke="#1a1a1a" stroke-width="1.3" />
<line x1="56.14" y1="210.8" x2="96.42" y2="222.9" stroke="#1a1a1a" stroke-width="1.3" />
<circle cx="56.14" cy="193.8" r="3.5" fill="#fff" stroke="#1a1a1a" stroke-width="1.1"/>
<circle cx="96.42" cy="211" r="3.5" fill="#fff" stroke="#1a1a1a" stroke-width="1.1"/>
<circle cx="56.14" cy="210.8" r="3.6" fill="#1a1a1a"/>
<circle cx="96.42" cy="222.9" r="3.6" fill="#1a1a1a"/>
<path d="M136.69,238.76 L137.7,239.98 L138.71,241.19 L139.72,242.41 L140.72,243.62 L141.73,244.82 L142.74,246.02 L143.74,247.2 L144.75,248.38 L145.76,249.55 L146.76,250.71 L147.77,251.85 L148.78,252.97 L149.78,254.08 L150.79,255.18 L151.8,256.25 L152.81,257.3 L153.81,258.33 L154.82,259.34 L155.83,260.32 L156.83,261.28 L157.84,262.21 L158.85,263.1 L159.85,263.97 L160.86,264.81 L161.87,265.62 L162.88,266.39 L163.88,267.12 L164.89,267.82 L165.9,268.48 L166.9,269.09 L167.91,269.67 L168.92,270.21 L169.92,270.7 L170.93,271.14 L171.94,271.54 L172.94,271.89 L173.95,272.19 L174.96,272.44 L175.97,272.64 L176.97,272.78 L177.98,272.87 L178.99,272.91 L179.99,272.9 L181,272.84 L182.01,272.73 L183.01,272.58 L184.02,272.38 L185.03,272.15 L186.03,271.88 L187.04,271.58 L188.05,271.25 L189.06,270.88 L190.06,270.49 L191.07,270.07 L192.08,269.63 L193.08,269.17 L194.09,268.69 L195.1,268.2 L196.1,267.69 L197.11,267.17 L198.12,266.64 L199.12,266.1 L200.13,265.56 L201.14,265.02 L202.15,264.47 L203.15,263.93 L204.16,263.39 L205.17,262.86 L206.17,262.34 L207.18,261.83 L208.19,261.34 L209.19,260.86 L210.2,260.4 L211.21,259.96 L212.22,259.54 L213.22,259.15 L214.23,258.78 L215.24,258.45 L216.24,258.14 L217.25,257.87 L218.26,257.64 L219.26,257.44 L220.27,257.28 L221.28,257.16 L222.28,257.06 L223.29,257 L224.3,256.98 L225.31,256.98 L226.31,257.01 L227.32,257.08 L228.33,257.17 L229.33,257.3 L230.34,257.45 L231.35,257.63 L232.35,257.83 L233.36,258.06 L234.37,258.32 L235.38,258.6 L236.38,258.9 L237.39,259.23 L238.4,259.58 L239.4,259.95 L240.41,260.34 L241.42,260.75 L242.42,261.18 L243.43,261.63 L244.44,262.1 L245.44,262.59 L246.45,263.09 L247.46,263.6 L248.47,264.14 L249.47,264.68 L250.48,265.24 L251.49,265.82 L252.49,266.4 L253.5,267 L254.51,267.6 L255.51,268.22 L256.52,268.85 L257.53,269.48 L258.53,270.12 L259.54,270.77 L260.55,271.43 L261.56,272.09 L262.56,272.75 L263.57,273.42 L264.58,274.08 L265.58,274.75 L266.59,275.42 L267.6,276.08 L268.6,276.74 L269.61,277.4 L270.62,278.05 L271.62,278.7 L272.63,279.34 L273.64,279.97 L274.65,280.59 L275.65,281.2 L276.66,281.8 L277.67,282.39 L278.67,282.96 L279.68,283.52 L280.69,284.06 L281.69,284.59 L282.7,285.09 L283.71,285.58 L284.72,286.05 L285.72,286.49 L286.73,286.92 L287.74,287.32 L288.74,287.69 L289.75,288.04 L290.76,288.37 L291.76,288.66 L292.77,288.93 L293.78,289.17 L294.78,289.37 L295.79,289.55 L296.8,289.69 L297.81,289.8 L298.81,289.87 L299.82,289.91 L300.83,289.91 L301.83,289.89 L302.84,289.83 L303.85,289.75 L304.85,289.64 L305.86,289.51 L306.87,289.35 L307.87,289.17 L308.88,288.98 L309.89,288.76 L310.9,288.52 L311.9,288.27 L312.91,288.01 L313.92,287.73 L314.92,287.44 L315.93,287.15 L316.94,286.84 L317.94,286.53 L318.95,286.21 L319.96,285.89 L320.97,285.56 L321.97,285.24 L322.98,284.92 L323.99,284.6 L324.99,284.28 L326,283.97 L327.01,283.66 L328.01,283.36 L329.02,283.08 L330.03,282.8 L331.03,282.54 L332.04,282.29 L333.05,282.06 L334.06,281.84 L335.06,281.65 L336.07,281.47 L337.08,281.32 L338.08,281.19 L339.12,281.08 L340.15,281 L341.18,280.94 L342.21,280.91 L343.25,280.9 L344.28,280.91 L345.31,280.95 L346.35,281.01 L347.38,281.09 L348.41,281.18 L349.44,281.3 L350.48,281.44 L351.51,281.59 L352.54,281.77 L353.57,281.95 L354.61,282.16 L355.64,282.38 L356.67,282.62 L357.71,282.87 L358.74,283.13 L359.77,283.41 L360.8,283.69 L361.84,283.99 L362.87,284.3 L363.9,284.63 L364.94,284.96 L365.97,285.29 L367,285.64 L368.03,285.99 L369.07,286.36 L370.1,286.72 L371.13,287.1 L372.16,287.47 L373.2,287.85 L374.23,288.24 L375.26,288.63 L376.3,289.01 L377.33,289.4 L378.36,289.8" fill="none" stroke="#1a1a1a" stroke-width="1.3" />
<rect x="133.09" y="235" width="7.2" height="7.2" fill="#1a1a1a"/>
<rect x="173.37" y="269" width="7.2" height="7.2" fill="#1a1a1a"/>
<rect x="213.65" y="254.1" width="7.2" height="7.2" fill="#1a1a1a"/>
<rect x="253.93" y="265.7" width="7.2" height="7.2" fill="#1a1a1a"/>
<rect x="294.21" y="286" width="7.2" height="7.2" fill="#1a1a1a"/>
<rect x="334.48" y="277.4" width="7.2" height="7.2" fill="#1a1a1a"/>
<rect x="374.76" y="286" width="7.2" height="7.2" fill="#1a1a1a"/>
<text x="67.8" y="195.2" font-family="Liberation Serif" font-size="13.972499999999998" text-anchor="start" fill="#1a1a1a" textLength="20.25" lengthAdjust="spacingAndGlyphs" >Fe2</text>
<text x="58.3" y="227.9" font-family="Liberation Serif" font-size="13.972499999999998" text-anchor="start" fill="#1a1a1a" textLength="20.25" lengthAdjust="spacingAndGlyphs" >Fe1</text>
<text x="277.4" y="273.8" font-family="Liberation Serif" font-size="13.972499999999998" text-anchor="start" fill="#1a1a1a" textLength="20.25" lengthAdjust="spacingAndGlyphs" >Fe1</text>
<text x="60.8" y="174.4" font-family="Liberation Serif" font-size="13.97" fill="#1a1a1a" textLength="33.26" lengthAdjust="spacingAndGlyphs">P2<tspan font-size="9.83" dy="4">1</tspan><tspan dy="-4">/m</tspan></text>
<text x="242.8" y="173.9" font-family="Liberation Serif" font-size="13.972499999999998" text-anchor="start" fill="#1a1a1a" textLength="30.75" lengthAdjust="spacingAndGlyphs" >Pnma</text>
<text x="315.4" y="175.3" font-family="Liberation Sans" font-size="11.6" text-anchor="start" fill="#1a1a1a" style="stroke:none">(b)</text>
<text x="333.6" y="174.7" font-family="Liberation Serif" font-size="13.972499999999998" text-anchor="start" fill="#1a1a1a" textLength="45.86" lengthAdjust="spacingAndGlyphs" >T=300K</text>
<line x1="132.7" y1="273.4" x2="65.3" y2="273.4" stroke="#454545" stroke-width="1.6" />
<path d="M60.4,273.4 L67.4,270.4 L67.4,276.4 Z" fill="#1a1a1a"/>
<line x1="217" y1="198.7" x2="308.3" y2="198.7" stroke="#454545" stroke-width="1.6" />
<path d="M313.2,198.7 L306.2,195.7 L306.2,201.7 Z" fill="#1a1a1a"/>
<path d="M55.19,343.6 L56,343.66 L56.81,343.72 L57.62,343.78 L58.43,343.84 L59.23,343.9 L60.04,343.96 L60.85,344.02 L61.66,344.08 L62.46,344.14 L63.27,344.21 L64.08,344.27 L64.89,344.34 L65.7,344.41 L66.5,344.48 L67.31,344.55 L68.12,344.62 L68.93,344.69 L69.73,344.77 L70.54,344.85 L71.35,344.93 L72.16,345.01 L72.97,345.1 L73.77,345.19 L74.58,345.28 L75.39,345.38 L76.2,345.47 L77,345.57 L77.81,345.68 L78.62,345.78 L79.43,345.89 L80.24,346.01 L81.04,346.12 L81.85,346.25 L82.66,346.37 L83.47,346.5 L84.27,346.63 L85.08,346.77 L85.89,346.91 L86.7,347.06 L87.51,347.21 L88.31,347.37 L89.12,347.53 L89.93,347.69 L90.74,347.86 L91.54,348.04 L92.35,348.22 L93.16,348.41 L93.97,348.6 L94.78,348.8 L95.58,349 L96.39,349.21 L97.2,349.42 L98.01,349.65 L98.81,349.87 L99.62,350.1 L100.43,350.33 L101.24,350.57 L102.05,350.81 L102.85,351.06 L103.66,351.3 L104.47,351.55 L105.28,351.8 L106.08,352.06 L106.89,352.31 L107.7,352.57 L108.51,352.82 L109.32,353.08 L110.12,353.34 L110.93,353.59 L111.74,353.85 L112.55,354.1 L113.35,354.35 L114.16,354.61 L114.97,354.85 L115.78,355.1 L116.59,355.34 L117.39,355.58 L118.2,355.82 L119.01,356.05 L119.82,356.28 L120.62,356.5 L121.43,356.72 L122.24,356.93 L123.05,357.14 L123.86,357.34 L124.66,357.54 L125.47,357.73 L126.28,357.91 L127.09,358.08 L127.89,358.25 L128.7,358.41 L129.51,358.55 L130.32,358.7 L131.13,358.83 L131.93,358.95 L132.74,359.06 L133.55,359.16 L134.36,359.25 L135.16,359.33 L135.97,359.4 L136.78,359.46 L137.59,359.5 L138.4,359.54 L139.2,359.56 L140.01,359.58 L140.82,359.58 L141.63,359.58 L142.43,359.57 L143.24,359.55 L144.05,359.52 L144.86,359.49 L145.67,359.44 L146.47,359.4 L147.28,359.34 L148.09,359.29 L148.9,359.22 L149.7,359.15 L150.51,359.08 L151.32,359.01 L152.13,358.93 L152.94,358.85 L153.74,358.77 L154.55,358.68 L155.36,358.6 L156.17,358.51 L156.97,358.43 L157.78,358.34 L158.59,358.26 L159.4,358.17 L160.21,358.09 L161.01,358.01 L161.82,357.93 L162.63,357.86 L163.44,357.79 L164.24,357.72 L165.05,357.66 L165.86,357.6 L166.67,357.55 L167.48,357.5 L168.28,357.46 L169.09,357.43 L169.9,357.4 L170.71,357.38 L171.51,357.37 L172.32,357.37 L173.13,357.38 L173.94,357.39 L174.75,357.42 L175.55,357.45 L176.36,357.5 L177.17,357.56 L177.98,357.63 L178.78,357.71 L179.59,357.8 L180.4,357.9 L181.21,358 L182.02,358.12 L182.82,358.25 L183.63,358.38 L184.44,358.53 L185.25,358.68 L186.05,358.84 L186.86,359 L187.67,359.17 L188.48,359.35 L189.29,359.53 L190.09,359.72 L190.9,359.92 L191.71,360.11 L192.52,360.32 L193.32,360.52 L194.13,360.73 L194.94,360.95 L195.75,361.16 L196.56,361.38 L197.36,361.6 L198.17,361.83 L198.98,362.05 L199.79,362.28 L200.59,362.5 L201.4,362.73 L202.21,362.95 L203.02,363.18 L203.83,363.41 L204.63,363.63 L205.44,363.85 L206.25,364.07 L207.06,364.29 L207.86,364.51 L208.67,364.72 L209.48,364.93 L210.29,365.13 L211.1,365.33 L211.9,365.53 L212.71,365.72 L213.52,365.91 L214.33,366.09 L215.13,366.27 L215.94,366.44 L216.75,366.6 L217.56,366.76 L218.37,366.9 L219.17,367.05 L219.98,367.18 L220.79,367.31 L221.6,367.43 L222.4,367.55 L223.21,367.66 L224.02,367.77 L224.83,367.87 L225.64,367.96 L226.44,368.05 L227.25,368.13 L228.06,368.21 L228.87,368.28 L229.67,368.34 L230.48,368.41 L231.29,368.46 L232.1,368.52 L232.91,368.56 L233.71,368.61 L234.52,368.65 L235.33,368.68 L236.14,368.72 L236.94,368.74 L237.75,368.77 L238.56,368.79 L239.37,368.81 L240.18,368.82 L240.98,368.83 L241.79,368.84 L242.6,368.84 L243.41,368.85 L244.21,368.85 L245.02,368.84 L245.83,368.84 L246.64,368.83 L247.45,368.82 L248.25,368.81 L249.06,368.8 L249.87,368.78 L250.68,368.77 L251.48,368.75 L252.29,368.73 L253.1,368.71 L253.91,368.69 L254.72,368.67 L255.52,368.65 L256.33,368.62 L257.14,368.6 L257.95,368.58 L258.75,368.55 L259.56,368.53 L260.37,368.5 L261.18,368.48 L261.99,368.45 L262.79,368.43 L263.6,368.4 L264.41,368.37 L265.22,368.35 L266.02,368.32 L266.83,368.29 L267.64,368.26 L268.45,368.24 L269.26,368.21 L270.06,368.18 L270.87,368.15 L271.68,368.12 L272.49,368.09 L273.29,368.06 L274.1,368.02 L274.91,367.99 L275.72,367.96 L276.53,367.93 L277.33,367.89 L278.14,367.86 L278.95,367.83 L279.76,367.79 L280.56,367.76 L281.37,367.72 L282.18,367.69 L282.99,367.65 L283.8,367.61 L284.6,367.57 L285.41,367.54 L286.22,367.5 L287.03,367.46 L287.83,367.42 L288.64,367.38 L289.45,367.34 L290.26,367.3 L291.07,367.25 L291.87,367.21 L292.68,367.17 L293.49,367.13 L294.3,367.08 L295.1,367.04 L295.91,366.99 L296.72,366.95 L297.53,366.9 L298.34,366.85 L299.14,366.81 L299.95,366.76 L300.76,366.71 L301.57,366.66 L302.37,366.61 L303.18,366.56 L303.99,366.51 L304.8,366.46 L305.61,366.4 L306.41,366.35 L307.22,366.3 L308.03,366.24 L308.84,366.19 L309.64,366.13 L310.45,366.08 L311.26,366.02 L312.07,365.97 L312.88,365.91 L313.68,365.85 L314.49,365.79 L315.3,365.73 L316.11,365.67 L316.91,365.62 L317.72,365.55 L318.53,365.49 L319.34,365.43 L320.15,365.37 L320.95,365.31 L321.76,365.25 L322.57,365.18 L323.38,365.12 L324.18,365.06 L324.99,364.99 L325.8,364.93 L326.61,364.86 L327.42,364.8 L328.22,364.73 L329.03,364.66 L329.84,364.59 L330.65,364.53 L331.45,364.46 L332.26,364.39 L333.07,364.32 L333.88,364.25 L334.69,364.18 L335.49,364.11 L336.3,364.04 L337.11,363.97 L337.92,363.9 L338.74,363.83 L339.57,363.75 L340.39,363.68 L341.21,363.6 L342.04,363.53 L342.86,363.46 L343.69,363.38 L344.51,363.3 L345.34,363.23 L346.16,363.15 L346.98,363.07 L347.81,363 L348.63,362.92 L349.46,362.84 L350.28,362.76 L351.1,362.69 L351.93,362.61 L352.75,362.53 L353.58,362.45 L354.4,362.37 L355.23,362.29 L356.05,362.21 L356.87,362.13 L357.7,362.05 L358.52,361.97 L359.35,361.89 L360.17,361.81 L361,361.73 L361.82,361.65 L362.64,361.57 L363.47,361.48 L364.29,361.4 L365.12,361.32 L365.94,361.24 L366.77,361.16 L367.59,361.07 L368.41,360.99 L369.24,360.91 L370.06,360.83 L370.89,360.75 L371.71,360.66 L372.54,360.58 L373.36,360.5 L374.18,360.41 L375.01,360.33 L375.83,360.25 L376.66,360.17 L377.48,360.08 L378.31,360" fill="none" stroke="#1a1a1a" stroke-width="1.3" stroke-dasharray="10 4.5"/>
<line x1="55.19" y1="324.2" x2="95.58" y2="353.2" stroke="#1a1a1a" stroke-width="1.3" />
<line x1="55.19" y1="347" x2="95.58" y2="344.1" stroke="#1a1a1a" stroke-width="1.3" />
<line x1="135.97" y1="355" x2="176.36" y2="372.2" stroke="#1a1a1a" stroke-width="1.3" />
<rect x="132.37" y="351.4" width="7.2" height="7.2" fill="#1a1a1a"/>
<rect x="172.76" y="368.6" width="7.2" height="7.2" fill="#1a1a1a"/>
<rect x="51.69" y="340.1" width="7" height="7" fill="#fff" stroke="#1a1a1a" stroke-width="1.2"/>
<rect x="92.08" y="345.5" width="7" height="7" fill="#fff" stroke="#1a1a1a" stroke-width="1.2"/>
<rect x="132.47" y="355.9" width="7" height="7" fill="#fff" stroke="#1a1a1a" stroke-width="1.2"/>
<rect x="172.86" y="354" width="7" height="7" fill="#fff" stroke="#1a1a1a" stroke-width="1.2"/>
<rect x="213.25" y="363.1" width="7" height="7" fill="#fff" stroke="#1a1a1a" stroke-width="1.2"/>
<rect x="253.64" y="365.1" width="7" height="7" fill="#fff" stroke="#1a1a1a" stroke-width="1.2"/>
<rect x="294.03" y="363.4" width="7" height="7" fill="#fff" stroke="#1a1a1a" stroke-width="1.2"/>
<rect x="334.42" y="360.4" width="7" height="7" fill="#fff" stroke="#1a1a1a" stroke-width="1.2"/>
<rect x="374.81" y="356.5" width="7" height="7" fill="#fff" stroke="#1a1a1a" stroke-width="1.2"/>
<circle cx="55.19" cy="324.2" r="3.6" fill="#1a1a1a"/>
<circle cx="55.19" cy="347" r="3.5" fill="#fff" stroke="#1a1a1a" stroke-width="1.1"/>
<circle cx="95.58" cy="344.1" r="3.5" fill="#fff" stroke="#1a1a1a" stroke-width="1.1"/>
<circle cx="95.58" cy="353.2" r="3.6" fill="#1a1a1a"/>
<path d="M216.75,345.4 L217.25,345.26 L217.76,345.11 L218.26,344.97 L218.77,344.82 L219.27,344.68 L219.78,344.54 L220.28,344.39 L220.79,344.25 L221.29,344.11 L221.8,343.97 L222.3,343.82 L222.81,343.68 L223.31,343.54 L223.82,343.4 L224.32,343.26 L224.83,343.13 L225.33,342.99 L225.84,342.85 L226.34,342.72 L226.85,342.58 L227.35,342.45 L227.86,342.32 L228.36,342.19 L228.87,342.06 L229.37,341.93 L229.88,341.8 L230.38,341.67 L230.89,341.55 L231.39,341.42 L231.9,341.3 L232.4,341.18 L232.91,341.06 L233.41,340.94 L233.92,340.83 L234.42,340.71 L234.93,340.6 L235.43,340.49 L235.93,340.38 L236.44,340.28 L236.94,340.17 L237.45,340.07 L237.95,339.97 L238.46,339.87 L238.96,339.78 L239.47,339.68 L239.97,339.59 L240.48,339.5 L240.98,339.41 L241.49,339.33 L241.99,339.25 L242.5,339.17 L243,339.09 L243.51,339.02 L244.01,338.95 L244.52,338.88 L245.02,338.81 L245.53,338.75 L246.03,338.69 L246.54,338.63 L247.04,338.58 L247.55,338.52 L248.05,338.48 L248.56,338.43 L249.06,338.39 L249.57,338.35 L250.07,338.32 L250.58,338.28 L251.08,338.26 L251.59,338.23 L252.09,338.21 L252.6,338.19 L253.1,338.18 L253.6,338.17 L254.11,338.16 L254.61,338.16 L255.12,338.16 L255.62,338.16 L256.13,338.17 L256.63,338.18 L257.14,338.2 L257.64,338.22 L258.15,338.25 L258.65,338.27 L259.16,338.31 L259.66,338.34 L260.17,338.39 L260.67,338.43 L261.18,338.48 L261.68,338.54 L262.19,338.6 L262.69,338.66 L263.2,338.73 L263.7,338.8 L264.21,338.88 L264.71,338.96 L265.22,339.05 L265.72,339.14 L266.23,339.24 L266.73,339.34 L267.24,339.45 L267.74,339.56 L268.25,339.68 L268.75,339.8 L269.26,339.93 L269.76,340.07 L270.27,340.2 L270.77,340.35 L271.27,340.5 L271.78,340.65 L272.28,340.81 L272.79,340.98 L273.29,341.15 L273.8,341.33 L274.3,341.51 L274.81,341.7 L275.31,341.89 L275.82,342.09 L276.32,342.3 L276.83,342.51 L277.33,342.73 L277.84,342.96 L278.34,343.19 L278.85,343.42 L279.35,343.67 L279.86,343.92 L280.36,344.17 L280.87,344.44 L281.37,344.7 L281.88,344.98 L282.38,345.26 L282.89,345.55 L283.39,345.84 L283.9,346.15 L284.4,346.45 L284.91,346.77 L285.41,347.09 L285.92,347.42 L286.42,347.76 L286.93,348.1 L287.43,348.45 L287.94,348.8 L288.44,349.17 L288.95,349.54 L289.45,349.92 L289.95,350.3 L290.46,350.7 L290.96,351.1 L291.47,351.51 L291.97,351.92 L292.48,352.34 L292.98,352.77 L293.49,353.21 L293.99,353.66 L294.5,354.11 L295,354.57 L295.51,355.04 L296.01,355.52 L296.52,356.01 L297.02,356.5 L297.53,357 L298.04,357.52 L298.55,358.04 L299.06,358.57 L299.57,359.11 L300.08,359.66 L300.6,360.22 L301.11,360.78 L301.62,361.35 L302.13,361.93 L302.64,362.51 L303.15,363.11 L303.66,363.71 L304.17,364.31 L304.69,364.93 L305.2,365.55 L305.71,366.18 L306.22,366.81 L306.73,367.45 L307.24,368.1 L307.75,368.75 L308.26,369.41 L308.78,370.08 L309.29,370.75 L309.8,371.43 L310.31,372.11 L310.82,372.8 L311.33,373.5 L311.84,374.2 L312.35,374.9 L312.87,375.61 L313.38,376.33 L313.89,377.05 L314.4,377.78 L314.91,378.51 L315.42,379.24 L315.93,379.98 L316.44,380.73 L316.96,381.48 L317.47,382.23 L317.98,382.99 L318.49,383.75 L319,384.52 L319.51,385.29 L320.02,386.06 L320.53,386.84 L321.05,387.62 L321.56,388.4 L322.07,389.19 L322.58,389.98 L323.09,390.77 L323.6,391.57 L324.11,392.37 L324.62,393.17 L325.14,393.98 L325.65,394.79 L326.16,395.6 L326.67,396.41 L327.18,397.23 L327.69,398.05 L328.2,398.87 L328.71,399.69 L329.23,400.51 L329.74,401.34 L330.25,402.16 L330.76,402.99 L331.27,403.82 L331.78,404.65 L332.29,405.49 L332.8,406.32 L333.32,407.16 L333.83,407.99 L334.34,408.83 L334.85,409.67 L335.36,410.5 L335.87,411.34 L336.38,412.18 L336.89,413.02 L337.41,413.86 L337.92,414.7" fill="none" stroke="#1a1a1a" stroke-width="1.3" />
<path d="M216.75,440.3 L217.25,440.02 L217.76,439.74 L218.26,439.46 L218.77,439.18 L219.27,438.9 L219.78,438.62 L220.28,438.34 L220.79,438.06 L221.29,437.77 L221.8,437.49 L222.3,437.21 L222.81,436.93 L223.31,436.64 L223.82,436.36 L224.32,436.07 L224.83,435.78 L225.33,435.5 L225.84,435.21 L226.34,434.92 L226.85,434.63 L227.35,434.33 L227.86,434.04 L228.36,433.75 L228.87,433.45 L229.37,433.15 L229.88,432.86 L230.38,432.56 L230.89,432.25 L231.39,431.95 L231.9,431.65 L232.4,431.34 L232.91,431.03 L233.41,430.72 L233.92,430.41 L234.42,430.09 L234.93,429.78 L235.43,429.46 L235.93,429.14 L236.44,428.82 L236.94,428.49 L237.45,428.17 L237.95,427.84 L238.46,427.5 L238.96,427.17 L239.47,426.83 L239.97,426.49 L240.48,426.15 L240.98,425.81 L241.49,425.46 L241.99,425.11 L242.5,424.76 L243,424.4 L243.51,424.04 L244.01,423.68 L244.52,423.31 L245.02,422.94 L245.53,422.57 L246.03,422.2 L246.54,421.82 L247.04,421.44 L247.55,421.05 L248.05,420.66 L248.56,420.27 L249.06,419.88 L249.57,419.48 L250.07,419.07 L250.58,418.66 L251.08,418.25 L251.59,417.84 L252.09,417.42 L252.6,417 L253.1,416.57 L253.6,416.14 L254.11,415.7 L254.61,415.26 L255.12,414.82 L255.62,414.37 L256.13,413.92 L256.63,413.46 L257.14,413 L257.64,412.53 L258.15,412.06 L258.65,411.59 L259.16,411.11 L259.66,410.63 L260.17,410.14 L260.67,409.66 L261.18,409.17 L261.68,408.67 L262.19,408.18 L262.69,407.68 L263.2,407.18 L263.7,406.69 L264.21,406.19 L264.71,405.69 L265.22,405.19 L265.72,404.69 L266.23,404.19 L266.73,403.69 L267.24,403.19 L267.74,402.69 L268.25,402.2 L268.75,401.7 L269.26,401.21 L269.76,400.72 L270.27,400.24 L270.77,399.75 L271.27,399.27 L271.78,398.8 L272.28,398.33 L272.79,397.86 L273.29,397.4 L273.8,396.94 L274.3,396.48 L274.81,396.03 L275.31,395.59 L275.82,395.16 L276.32,394.73 L276.83,394.3 L277.33,393.89 L277.84,393.48 L278.34,393.07 L278.85,392.68 L279.35,392.29 L279.86,391.91 L280.36,391.54 L280.87,391.18 L281.37,390.83 L281.88,390.49 L282.38,390.16 L282.89,389.84 L283.39,389.52 L283.9,389.22 L284.4,388.93 L284.91,388.65 L285.41,388.39 L285.92,388.13 L286.42,387.89 L286.93,387.66 L287.43,387.44 L287.94,387.23 L288.44,387.04 L288.95,386.86 L289.45,386.7 L289.95,386.55 L290.46,386.41 L290.96,386.29 L291.47,386.19 L291.97,386.1 L292.48,386.02 L292.98,385.96 L293.49,385.92 L293.99,385.89 L294.5,385.89 L295,385.89 L295.51,385.92 L296.01,385.96 L296.52,386.02 L297.02,386.1 L297.53,386.2 L298.04,386.32 L298.55,386.46 L299.06,386.61 L299.57,386.79 L300.08,386.98 L300.6,387.19 L301.11,387.42 L301.62,387.67 L302.13,387.93 L302.64,388.22 L303.15,388.51 L303.66,388.83 L304.17,389.16 L304.69,389.51 L305.2,389.87 L305.71,390.25 L306.22,390.65 L306.73,391.06 L307.24,391.48 L307.75,391.92 L308.26,392.38 L308.78,392.85 L309.29,393.33 L309.8,393.83 L310.31,394.34 L310.82,394.86 L311.33,395.39 L311.84,395.94 L312.35,396.5 L312.87,397.08 L313.38,397.66 L313.89,398.26 L314.4,398.87 L314.91,399.49 L315.42,400.12 L315.93,400.76 L316.44,401.42 L316.96,402.08 L317.47,402.75 L317.98,403.44 L318.49,404.13 L319,404.83 L319.51,405.54 L320.02,406.26 L320.53,406.99 L321.05,407.72 L321.56,408.47 L322.07,409.22 L322.58,409.98 L323.09,410.75 L323.6,411.52 L324.11,412.3 L324.62,413.09 L325.14,413.89 L325.65,414.69 L326.16,415.49 L326.67,416.31 L327.18,417.12 L327.69,417.95 L328.2,418.77 L328.71,419.6 L329.23,420.44 L329.74,421.28 L330.25,422.13 L330.76,422.97 L331.27,423.83 L331.78,424.68 L332.29,425.54 L332.8,426.4 L333.32,427.26 L333.83,428.13 L334.34,429 L334.85,429.86 L335.36,430.73 L335.87,431.61 L336.38,432.48 L336.89,433.35 L337.41,434.23 L337.92,435.1" fill="none" stroke="#1a1a1a" stroke-width="1.3" />
<rect x="213.15" y="341.6" width="7.2" height="7.2" fill="#1a1a1a"/>
<rect x="253.54" y="334.4" width="7.2" height="7.2" fill="#1a1a1a"/>
<rect x="293.93" y="353.2" width="7.2" height="7.2" fill="#1a1a1a"/>
<rect x="334.32" y="410.9" width="7.2" height="7.2" fill="#1a1a1a"/>
<path d="M216.75,436.6 L220.15,442.4 L213.35,442.4 Z" fill="#1a1a1a"/>
<path d="M257.14,409.3 L260.54,415.1 L253.74,415.1 Z" fill="#1a1a1a"/>
<path d="M297.53,382.5 L300.93,388.3 L294.13,388.3 Z" fill="#1a1a1a"/>
<path d="M337.92,431.4 L341.32,437.2 L334.52,437.2 Z" fill="#1a1a1a"/>
<text x="35.1" y="320.6" font-family="Liberation Serif" font-size="13.972499999999998" text-anchor="start" fill="#1a1a1a" textLength="20.25" lengthAdjust="spacingAndGlyphs" >Fe1</text>
<text x="43.8" y="361" font-family="Liberation Serif" font-size="13.972499999999998" text-anchor="start" fill="#1a1a1a" textLength="20.25" lengthAdjust="spacingAndGlyphs" >Fe2</text>
<text x="59.8" y="315.3" font-family="Liberation Serif" font-size="13.97" fill="#1a1a1a" textLength="33.26" lengthAdjust="spacingAndGlyphs">P2<tspan font-size="9.83" dy="4">1</tspan><tspan dy="-4">/m</tspan></text>
<text x="144.4" y="317" font-family="Liberation Serif" font-size="13.972499999999998" text-anchor="start" fill="#1a1a1a" textLength="30.75" lengthAdjust="spacingAndGlyphs" >Pnma</text>
<text x="140.5" y="380.7" font-family="Liberation Serif" font-size="13.972499999999998" text-anchor="start" fill="#1a1a1a" textLength="20.25" lengthAdjust="spacingAndGlyphs" >Fe1</text>
<text x="275.2" y="316" font-family="Liberation Serif" font-size="13.972499999999998" text-anchor="start" fill="#1a1a1a" textLength="25.5" lengthAdjust="spacingAndGlyphs" >C2/c</text>
<text x="277.6" y="337.9" font-family="Liberation Serif" font-size="13.972499999999998" text-anchor="start" fill="#1a1a1a" textLength="33.75" lengthAdjust="spacingAndGlyphs" >Fe1_2</text>
<text x="277.6" y="414.7" font-family="Liberation Serif" font-size="13.972499999999998" text-anchor="start" fill="#1a1a1a" textLength="33.75" lengthAdjust="spacingAndGlyphs" >Fe1_3</text>
<text x="324.1" y="319.6" font-family="Liberation Sans" font-size="11.6" text-anchor="start" fill="#1a1a1a" style="stroke:none">(c)</text>
<text x="342.6" y="319.7" font-family="Liberation Serif" font-size="14" text-anchor="start" fill="#1a1a1a" >10−15K</text>
<line x1="223.6" y1="395.9" x2="75.7" y2="395.9" stroke="#454545" stroke-width="1.6" />
<path d="M70.8,395.9 L77.8,392.9 L77.8,398.9 Z" fill="#1a1a1a"/>
<line x1="345.2" y1="372.9" x2="382.1" y2="372.9" stroke="#454545" stroke-width="1.6" />
<path d="M387,372.9 L380,369.9 L380,375.9 Z" fill="#1a1a1a"/>
</svg>
</body></html>
